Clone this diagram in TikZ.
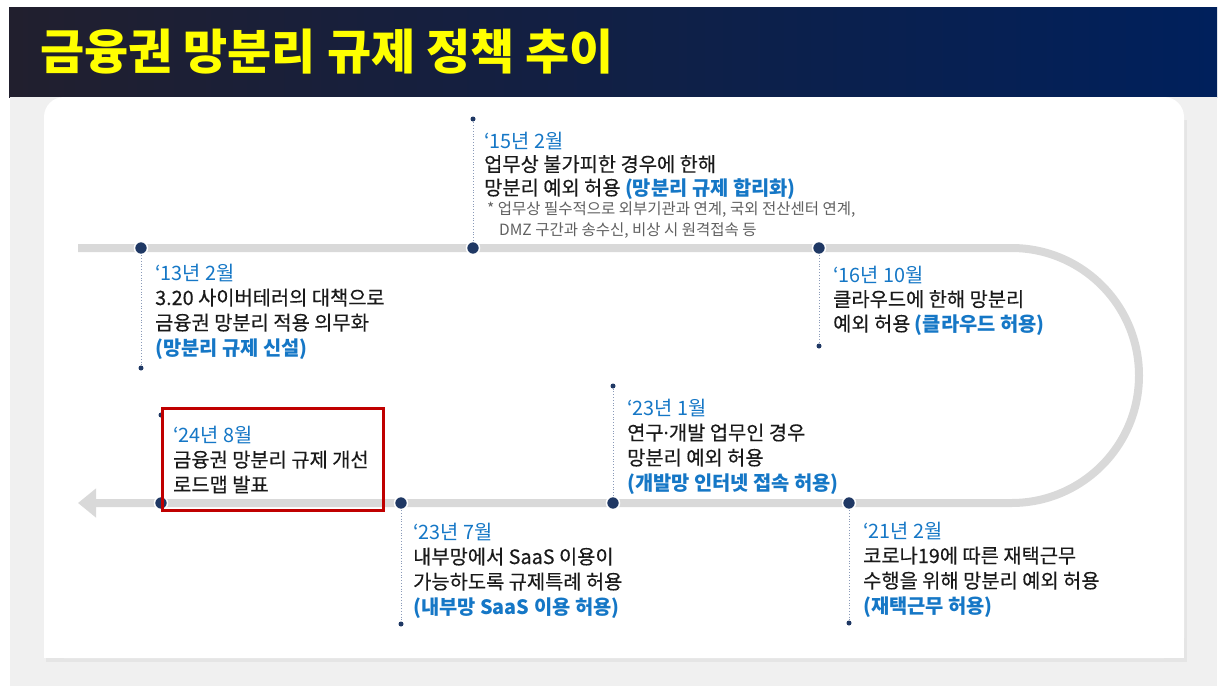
\documentclass[tikz,border=0pt]{standalone}
\usepackage{fontspec}
\usepackage{xcolor}
\usetikzlibrary{arrows.meta}
\newfontfamily\kr{Noto Sans CJK KR}
\newfontfamily\krbody{Noto Sans CJK KR}[FakeBold=0.3]
\newfontfamily\latn{Noto Sans}
\definecolor{hdleft}{HTML}{211F2E}
\definecolor{hdmid}{HTML}{161F4F}
\definecolor{hdright}{HTML}{00205C}
\definecolor{pagegray}{HTML}{F0F0F0}
\definecolor{linegray}{HTML}{D9D9D9}
\definecolor{navy}{HTML}{1F3864}
\definecolor{stemgray}{HTML}{8A9AB8}
\definecolor{dateblue}{HTML}{1577C6}
\definecolor{bodyblack}{HTML}{1A1A1A}
\definecolor{notegray}{HTML}{606060}
\definecolor{boxred}{HTML}{C00000}
\tikzset{
  evdot/.style={circle,fill=navy,draw=white,line width=1.5pt,minimum size=13pt,inner sep=0pt},
  enddot/.style={circle,fill=navy,minimum size=5pt,inner sep=0pt},
  stem/.style={draw=stemgray,line width=0.8pt,dotted},
  evtext/.style={anchor=base west,align=left,inner sep=0pt,text=bodyblack,font=\krbody\fontsize{19.8}{25}\selectfont},
}
\newcommand{\evdate}[1]{{\kr\color{dateblue}#1}}
\newcommand{\evtag}[1]{{\kr\bfseries\color{dateblue}#1}}
\begin{document}
\begin{tikzpicture}[x=1pt,y=-1pt]
            \useasboundingbox[fill=white] (0,0) rectangle (1227,694);
            \fill[left color=hdleft,middle color=hdmid,right color=hdright] (9,7) rectangle (1217,97);
            \fill[pagegray] (10,97) rectangle (1217,686);
            \fill[black!10] (46,120) rectangle (1187,662);
            \fill[white,rounded corners=20pt] (44,97) rectangle (1184,658);
            \fill[white] (44,130) rectangle (1184,658);

            \node[anchor=west,inner sep=0pt,text={rgb,255:red,255;green,255;blue,0},font=\kr\bfseries\fontsize{48}{54}\selectfont] (title) at (40,52) {금융권 망분리 규제 정책 추이};

            \draw[linegray,line width=8pt,-{Triangle[length=18pt,width=28pt]}] (78,248) -- (1011.5,248) arc (-90:90:127.5) -- (78,503);

            \node[evdot] (d13) at (141,248) {};
            \node[evdot] (d15) at (473,248) {};
            \node[evdot] (d16) at (819,248) {};
            \node[evdot] (d21) at (849,503) {};
            \node[evdot] (d231) at (613,503) {};
            \node[evdot] (d237) at (401,503) {};
            \node[evdot] (d24) at (161,503) {};

            \node[enddot] (e13) at (141,368) {};
            \node[enddot] (e15) at (473,119) {};
            \node[enddot] (e16) at (819,346) {};
            \node[enddot] (e21) at (849,623) {};
            \node[enddot] (e231) at (613,386) {};
            \node[enddot] (e237) at (401,624) {};
            \node[enddot] (e24) at (161,415) {};

            \draw[stem] (d13) -- (e13);
            \draw[stem] (d15) -- (e15);
            \draw[stem] (d16) -- (e16);
            \draw[stem] (d21) -- (e21);
            \draw[stem] (d231) -- (e231);
            \draw[stem] (d237) -- (e237);
            \draw[stem] (d24) -- (e24);

            \node[evtext] (t13) at (155,355) {\evdate{‘13년 2월}\\3.20 사이버테러의 대책으로\\금융권 망분리 적용 의무화\\\evtag{(망분리 규제 신설)}};
            \node[evtext,font=\krbody\fontsize{19.8}{23.5}\selectfont] (t15) at (484,195) {\evdate{‘15년 2월}\\업무상 불가피한 경우에 한해\\망분리 예외 허용 \evtag{(망분리 규제 합리화)}};
            \node[anchor=base west,align=left,inner sep=0pt,text=notegray,font=\kr\fontsize{15.5}{21}\selectfont] (n15) at (487,235) {* 업무상 필수적으로 외부기관과 연계, 국외 전산센터 연계,\\\hspace*{12pt}DMZ 구간과 송수신, 비상 시 원격접속 등};
            \node[evtext,font=\krbody\fontsize{19.8}{24.5}\selectfont] (t16) at (833,331) {\evdate{‘16년 10월}\\클라우드에 한해 망분리\\예외 허용 \evtag{(클라우드 허용)}};
            \node[evtext] (t21) at (863,613) {\evdate{‘21년 2월}\\코로나19에 따른 재택근무\\수행을 위해 망분리 예외 허용\\\evtag{(재택근무 허용)}};
            \node[evtext] (t231) at (627,490) {\evdate{‘23년 1월}\\연구{\latn·}개발 업무인 경우\\망분리 예외 허용\\\evtag{(개발망 인터넷 접속 허용)}};
            \node[evtext] (t237) at (413,614) {\evdate{‘23년 7월}\\내부망에서 SaaS 이용이\\가능하도록 규제특례 허용\\\evtag{(내부망 SaaS 이용 허용)}};
            \node[evtext] (t24) at (173,492) {\evdate{‘24년 8월}\\금융권 망분리 규제 개선\\로드맵 발표};

            \draw[boxred,line width=3pt] (162,408) rectangle (383,510);
        \end{tikzpicture}
\end{document}
